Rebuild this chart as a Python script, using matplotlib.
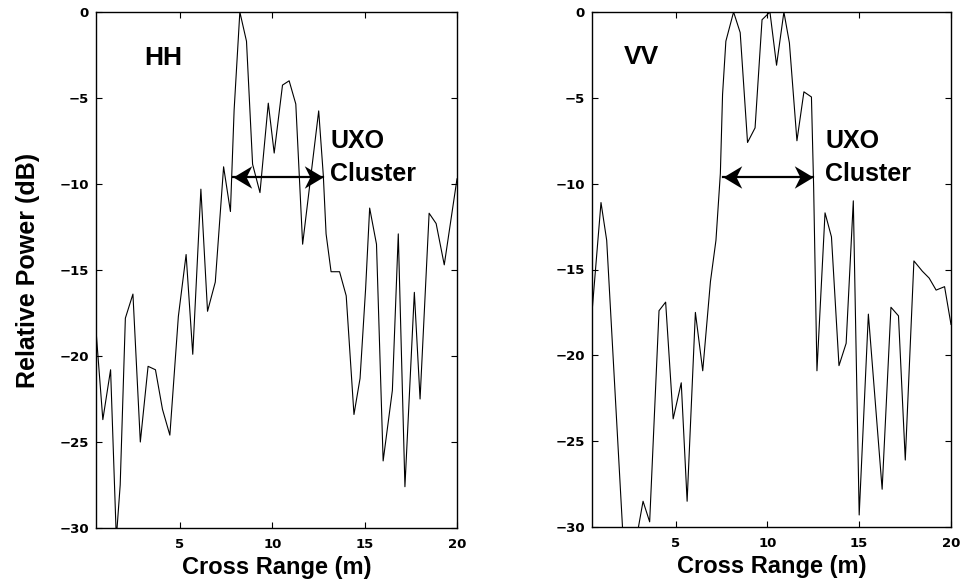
import numpy as np
import matplotlib
matplotlib.use("Agg")
from matplotlib import pyplot as plt
from matplotlib.path import Path

# cross range (m) and relative power (dB)
hh_x = [0.45, 0.82, 1.24, 1.55, 1.76, 2.04, 2.45, 2.85, 3.27, 3.67, 4.05, 4.45,
        4.91, 5.33, 5.69, 6.13, 6.49, 6.91, 7.36, 7.73, 7.93, 8.24, 8.6, 8.93,
        9.33, 9.78, 10.1, 10.55, 10.91, 11.27, 11.64, 12.51, 12.76, 12.91, 13.18,
        13.64, 14.0, 14.42, 14.75, 15.05, 15.27, 15.64, 16.0, 16.5, 16.82, 17.18,
        17.69, 18.0, 18.49, 18.87, 19.31, 20.0]
hh_db = [-18.5, -23.7, -20.8, -30.6, -27.5, -17.8, -16.4, -25.0, -20.6, -20.8, -23.1, -24.6,
         -17.7, -14.1, -19.9, -10.3, -17.4, -15.7, -9.0, -11.6, -5.7, 0.0, -1.7, -8.85,
         -10.5, -5.3, -8.2, -4.25, -4.0, -5.35, -13.5, -5.75, -9.5, -12.9, -15.1,
         -15.1, -16.5, -23.4, -21.3, -16.1, -11.4, -13.5, -26.1, -22.0, -12.9, -27.6,
         -16.3, -22.5, -11.7, -12.3, -14.7, -9.7]

vv_x = [0.45, 0.94, 1.25, 2.11, 2.5, 2.98, 3.23, 3.59, 4.1, 4.46, 4.87, 5.31, 5.63,
        6.08, 6.48, 6.9, 7.2, 7.44, 7.56, 7.74, 8.16, 8.52, 8.92, 9.33, 9.71, 10.14,
        10.5, 10.9, 11.2, 11.61, 11.99, 12.4, 12.52, 12.7, 13.14, 13.49, 13.9, 14.29,
        14.68, 15.0, 15.5, 16.25, 16.73, 17.14, 17.51, 17.98, 18.44, 18.81, 19.19,
        19.65, 20.0]
vv_db = [-17.5, -11.1, -13.3, -30.0, -33.0, -30.0, -28.5, -29.7, -17.4, -16.9, -23.7, -21.6, -28.5,
         -17.5, -20.9, -15.7, -13.3, -9.4, -4.8, -1.7, 0.0, -1.2, -7.6, -6.75, -0.45, 0.0,
         -3.1, 0.0, -1.8, -7.5, -4.65, -4.95, -10.2, -20.9, -11.7, -13.1, -20.6, -19.3,
         -11.0, -29.3, -17.6, -27.8, -17.2, -17.7, -26.1, -14.5, -15.1, -15.5, -16.2,
         -16.0, -18.2]

# cluster extent marked by the double arrow
hh_span = (7.85, 12.73)
vv_span = (7.56, 12.47)

TXT = ["Liberation Sans", "DejaVu Sans"]

head = Path([(0, 0), (-1, 0.6), (-0.7, 0), (-1, -0.6), (0, 0)],
            [Path.MOVETO, Path.LINETO, Path.LINETO, Path.LINETO, Path.CLOSEPOLY])
head_l = Path(head.vertices * [-1, 1], head.codes)


def panel(ax, x, y, name, name_pos, span, label_x):
  ax.plot(x, y, color="black", lw=0.8)
  ax.set_xlim(0.45, 20)
  ax.set_ylim(-30, 0)
  ax.set_xticks([5, 10, 15, 20])
  ax.set_yticks([-30, -25, -20, -15, -10, -5, 0])
  ax.tick_params(direction="in", top=True, right=True, length=4, width=0.8)
  ax.tick_params(axis="x", pad=7)
  ax.tick_params(axis="y", pad=5)
  for t in ax.get_xticklabels() + ax.get_yticklabels():
    t.set_fontfamily("DejaVu Sans")
    t.set_fontweight("bold")
    t.set_fontsize(9.5)
  for s in ax.spines.values():
    s.set_linewidth(1.0)
  ax.text(name_pos[0], name_pos[1], name, family=TXT, weight="bold", fontsize=19,
          ha="center", va="center")
  yc = -9.62
  ax.plot(span, [yc, yc], color="black", lw=1.6)
  ax.plot(span[1], yc, marker=head, ms=27, color="black", mew=0)
  ax.plot(span[0], yc, marker=head_l, ms=27, color="black", mew=0)
  ax.text(label_x, -7.9, "UXO", family=TXT, weight="bold", fontsize=18, va="baseline")
  ax.text(label_x, -9.85, "Cluster", family=TXT, weight="bold", fontsize=18, va="baseline")
  ax.set_xlabel("Cross Range (m)", family=TXT, weight="bold", fontsize=17, labelpad=4)


fig = plt.figure(figsize=(9.62, 5.83), dpi=100)
ax1 = fig.add_axes([96 / 962, 1 - 528 / 583, 361 / 962, 516 / 583])
ax2 = fig.add_axes([592 / 962, 1 - 527 / 583, 359 / 962, 515 / 583])

panel(ax1, hh_x, hh_db, "HH", (4.07, -2.7), hh_span, 13.13)
panel(ax2, vv_x, vv_db, "VV", (3.16, -2.6), vv_span, 13.16)
ax1.set_ylabel("Relative Power (dB)", family=TXT, weight="bold", fontsize=18)
ax1.yaxis.set_label_coords(-0.155, 0.5)

fig.savefig("out.png", dpi=100)
